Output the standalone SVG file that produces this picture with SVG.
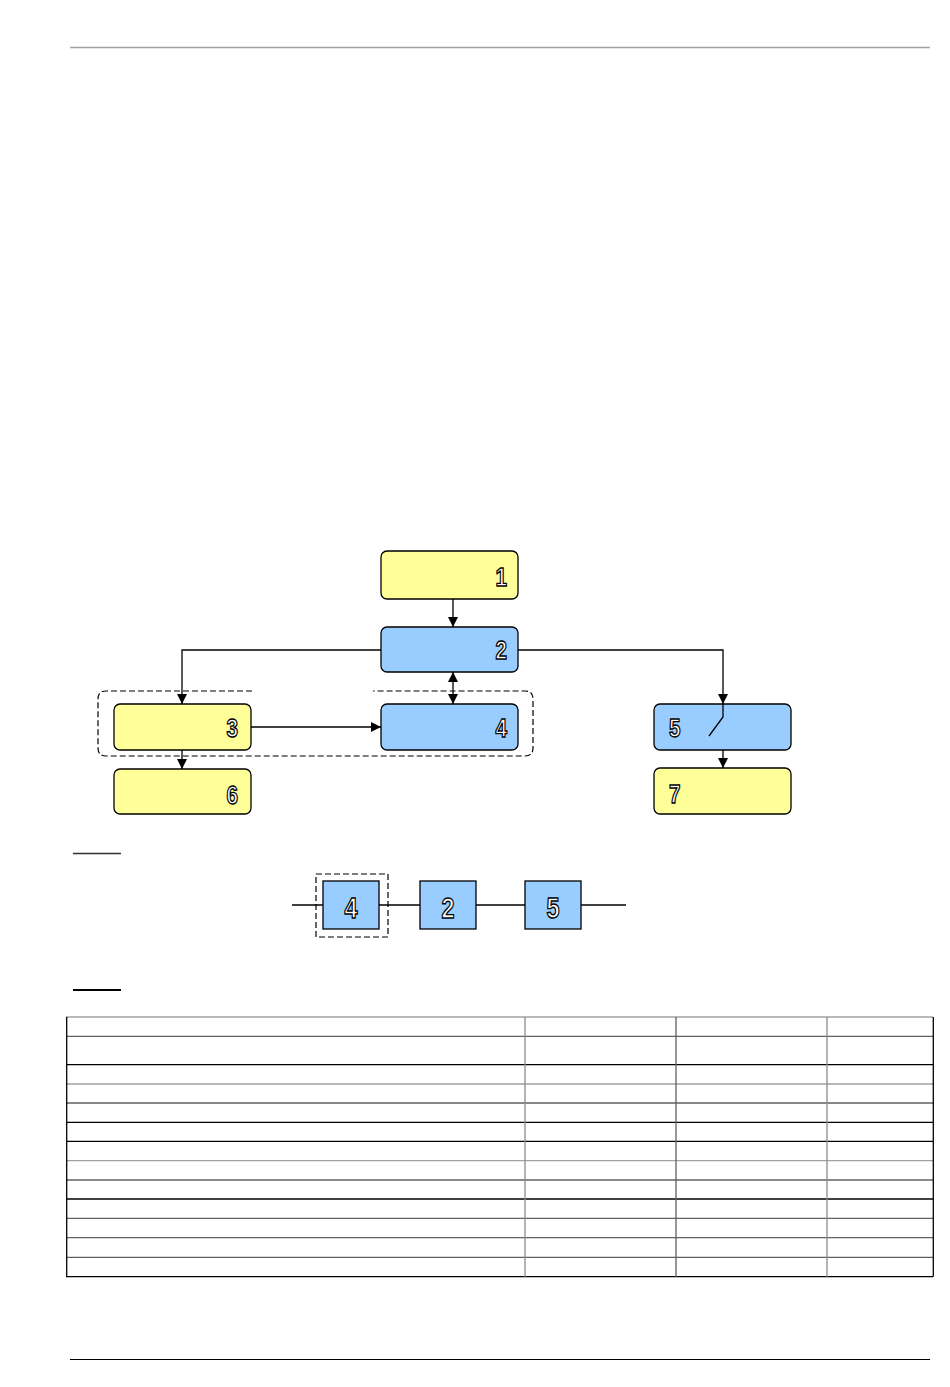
<svg xmlns="http://www.w3.org/2000/svg" width="950" height="1387" viewBox="0 0 950 1387">
<style>
.y{fill:#FFFF99;stroke:#000;stroke-width:1.3}
.b{fill:#99CCFF;stroke:#000;stroke-width:1.3}
.d{font-family:"Liberation Sans",Arial,sans-serif;font-weight:bold;font-size:26px;fill:#fff;stroke:#000;stroke-width:1.4}
.ds{font-size:30px;text-anchor:middle}
.c{fill:none;stroke:#000;stroke-width:1.3}
.dash{fill:none;stroke:#000;stroke-width:1.2;stroke-dasharray:6,3}
.tg{stroke:#a0a0a0;stroke-width:1.3}
.td{stroke:#606060;stroke-width:1.3}
.tb{stroke:#000;stroke-width:1.3}
.tc{stroke:#8c8c8c;stroke-width:1.3}
</style>
<defs>
<marker id="ah" viewBox="0 0 10 10" refX="10" refY="5" markerWidth="10" markerHeight="10" markerUnits="userSpaceOnUse" orient="auto-start-reverse">
<path d="M0,0 L10,5 L0,10 z" fill="#000"/>
</marker>
</defs>
<rect width="950" height="1387" fill="#fff"/>
<line x1="70" y1="47.5" x2="930" y2="47.5" stroke="#a0a0a0" stroke-width="1.5"/>
<line x1="70" y1="1359.5" x2="930" y2="1359.5" stroke="#000" stroke-width="1"/>

<g id="group-dashed">
<path class="dash" d="M252,691 H106 Q98,691 98,699 V748 Q98,756 106,756 H525 Q533,756 533,748 V699 Q533,691 525,691 H373"/>
</g>

<g id="connectors">
<line class="c" x1="453" y1="599" x2="453" y2="627" marker-end="url(#ah)"/>
<path class="c" d="M381,650 H182 V704" marker-end="url(#ah)"/>
<path class="c" d="M518,650 H723 V704" marker-end="url(#ah)"/>
<line class="c" x1="453" y1="672" x2="453" y2="704" marker-start="url(#ah)" marker-end="url(#ah)"/>
<line class="c" x1="251" y1="727" x2="381" y2="727" marker-end="url(#ah)"/>
<line class="c" x1="182" y1="750" x2="182" y2="769" marker-end="url(#ah)"/>
<line class="c" x1="723" y1="750" x2="723" y2="768" marker-end="url(#ah)"/>
</g>

<g id="node1"><rect class="y" x="381" y="551" width="137" height="48" rx="6"/><text class="d" x="507" y="586" text-anchor="end" textLength="11.5" lengthAdjust="spacingAndGlyphs">1</text></g>
<g id="node2"><rect class="b" x="381" y="627" width="137" height="45" rx="6"/><text class="d" x="507" y="659" text-anchor="end" textLength="11.5" lengthAdjust="spacingAndGlyphs">2</text></g>
<g id="node3"><rect class="y" x="114" y="704" width="137" height="46" rx="6"/><text class="d" x="238" y="737" text-anchor="end" textLength="11.5" lengthAdjust="spacingAndGlyphs">3</text></g>
<g id="node4"><rect class="b" x="381" y="704" width="137" height="46" rx="6"/><text class="d" x="507" y="737" text-anchor="end" textLength="11.5" lengthAdjust="spacingAndGlyphs">4</text></g>
<g id="node5"><rect class="b" x="654" y="704" width="137" height="46" rx="6"/><text class="d" x="669" y="737" textLength="11.5" lengthAdjust="spacingAndGlyphs">5</text><polyline class="c" points="723,704 723,717 709,736"/></g>
<g id="node6"><rect class="y" x="114" y="769" width="137" height="45" rx="6"/><text class="d" x="238" y="804" text-anchor="end" textLength="11.5" lengthAdjust="spacingAndGlyphs">6</text></g>
<g id="node7"><rect class="y" x="654" y="768" width="137" height="46" rx="6"/><text class="d" x="669" y="803" textLength="11.5" lengthAdjust="spacingAndGlyphs">7</text></g>

<line x1="73" y1="853.5" x2="121" y2="853.5" stroke="#333" stroke-width="1.5"/>

<g id="chain-line"><line class="c" x1="292" y1="905" x2="626" y2="905" stroke-width="1.2"/></g>
<g id="chain-dashed"><rect class="dash" x="316" y="874" width="72" height="63"/></g>
<g id="chain4"><rect class="b" x="323" y="881" width="56" height="48"/><text class="d ds" x="351" y="918" textLength="13" lengthAdjust="spacingAndGlyphs">4</text></g>
<g id="chain2"><rect class="b" x="420" y="881" width="56" height="48"/><text class="d ds" x="448" y="918" textLength="13" lengthAdjust="spacingAndGlyphs">2</text></g>
<g id="chain5"><rect class="b" x="525" y="881" width="56" height="48"/><text class="d ds" x="553" y="918" textLength="13" lengthAdjust="spacingAndGlyphs">5</text></g>

<line x1="73" y1="990" x2="121" y2="990" stroke="#000" stroke-width="2"/>

<g id="table">
<line class="tg" x1="66" y1="1017" x2="933" y2="1017"/>
<line class="td" x1="66" y1="1036.3" x2="933" y2="1036.3"/>
<line class="tb" x1="66" y1="1064.7" x2="933" y2="1064.7"/>
<line class="tg" x1="66" y1="1084" x2="933" y2="1084"/>
<line class="td" x1="66" y1="1103" x2="933" y2="1103"/>
<line class="tb" x1="66" y1="1122.3" x2="933" y2="1122.3"/>
<line class="tb" x1="66" y1="1141.3" x2="933" y2="1141.3"/>
<line class="tg" x1="66" y1="1160.7" x2="933" y2="1160.7"/>
<line class="td" x1="66" y1="1180" x2="933" y2="1180"/>
<line class="tb" x1="66" y1="1199" x2="933" y2="1199"/>
<line class="td" x1="66" y1="1218.3" x2="933" y2="1218.3"/>
<line class="td" x1="66" y1="1237.7" x2="933" y2="1237.7"/>
<line class="td" x1="66" y1="1257.3" x2="933" y2="1257.3"/>
<line class="tb" x1="66" y1="1276.7" x2="933" y2="1276.7"/>
<line class="tb" x1="66.7" y1="1017" x2="66.7" y2="1276.7"/>
<line class="tc" x1="525" y1="1017" x2="525" y2="1276.7"/>
<line class="td" x1="676" y1="1017" x2="676" y2="1276.7"/>
<line class="tc" x1="827" y1="1017" x2="827" y2="1276.7"/>
<line class="tb" x1="933.3" y1="1017" x2="933.3" y2="1276.7"/>
</g>
</svg>
